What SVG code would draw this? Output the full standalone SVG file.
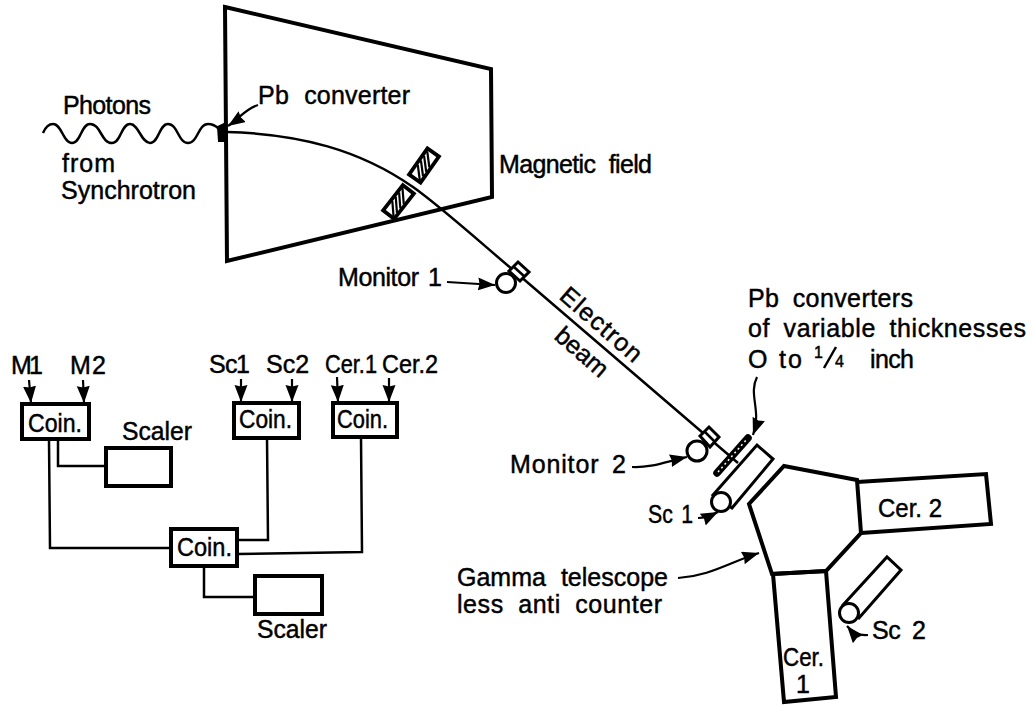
<svg xmlns="http://www.w3.org/2000/svg" width="1034" height="706" viewBox="0 0 1034 706">
<style>
text{font-family:"Liberation Sans",Arial,sans-serif;font-size:25px;fill:#000;stroke:#000;stroke-width:.45}
.th{fill:none;stroke:#000;stroke-width:4;stroke-linejoin:miter}
.box{fill:#fff;stroke:#000;stroke-width:4}
.ln{fill:none;stroke:#000;stroke-width:2.500}
.wire{fill:none;stroke:#000;stroke-width:2.500}
.arr{fill:none;stroke:#000;stroke-width:2.200;marker-end:url(#ah)}
.w{fill:#fff;stroke:#000;stroke-width:3}
.small{font-size:16px}
</style>
<defs>
<marker id="ah" markerUnits="userSpaceOnUse" markerWidth="18" markerHeight="14" refX="17" refY="6.500" orient="auto"><path d="M0,0L17,6.500L0,13L1.500,6.500Z" fill="#000"/></marker>
<g id="hatch"><rect x="-16" y="-7" width="32" height="14" fill="#fff" stroke="#000" stroke-width="3.800"/><path d="M-15,5.500L-3,-5.500M-9.500,5.500L2.500,-5.500M-4,5.500L8,-5.500M1.500,5.500L13.500,-5.500" stroke="#000" stroke-width="2.200" fill="none"/></g>
</defs>
<g id="magnet">
<path class="th" d="M225,7L491,69L492,197L227,261Z"/>
<text x="499" y="173" word-spacing="7" textLength="153">Magnetic field</text>
</g>
<g id="connectors">
<path class="ln" d="M227,132C300,134 360,150 413,187C440,206 480,242 513,270L738,463"/>
<path class="ln" d="M43,133C46,126 50,124 53,124C62,124 63,143 72,143C81,143 81,124 90,124C101,124 101,143 112,143C121,143 121,124 130,124C139,124 141,143 150,143C159,143 159,124 168,124C178,124 178,143 188,143C198,143 198,124 208,124C212,124 216,126 219,129"/>
<path class="arr" d="M258,105C245,109 240,118 228,126"/>
<path class="arr" d="M447,282L495,285"/>
<path class="arr" d="M632,467C650,468 665,462 687,457"/>
<path class="arr" d="M757,377C748,395 762,410 753,435"/>
<path class="arr" d="M698,518C705,518 710,516 718,512"/>
<path class="arr" d="M678,578C710,576 730,562 759,553"/>
<path class="arr" d="M868,635C858,636 852,632 847,626"/>
<path class="arr" d="M29,380L31,403"/><path class="arr" d="M83,380L84,403"/>
<path class="arr" d="M241,379V402"/><path class="arr" d="M292,379V402"/>
<path class="arr" d="M337,377L338,402"/><path class="arr" d="M389,378V402"/>
<path class="wire" d="M58,440V466H106"/>
<path class="wire" d="M49,440L50,548H171"/>
<path class="wire" d="M267,438L268,540H237"/>
<path class="wire" d="M361,437L362,552L237,554"/>
<path class="wire" d="M204,566V597H255"/>
</g>
<g id="pb-converter">
<path d="M218,127L226,123L226,141L219,141Z" fill="#000" stroke="#000" stroke-width="2"/>
<text x="258" y="104" word-spacing="8" textLength="152">Pb converter</text>
</g>
<g id="photons-label">
<text x="63" y="114" textLength="88">Photons</text>
<text x="62" y="172" textLength="53">from</text>
<text x="61" y="199" textLength="135">Synchrotron</text>
</g>
<g id="slit-upper"><use href="#hatch" transform="translate(424,165.500) rotate(-55)"/></g>
<g id="slit-lower"><use href="#hatch" transform="translate(398.500,202) rotate(-52)"/></g>
<g id="monitor-1">
<path class="w" d="M509,271L518,262L529,272L520,281Z"/>
<path class="ln" d="M514,267L525,277"/>
<circle class="w" cx="506" cy="283" r="9.500"/>
<text x="338" y="286" word-spacing="3" textLength="104">Monitor 1</text>
</g>
<g id="beam-label">
<text transform="translate(558,298) rotate(41)" textLength="100">Electron</text>
<text transform="translate(553,338) rotate(41)" textLength="62">beam</text>
</g>
<g id="monitor-2">
<path class="w" d="M700,436L709,427L719,437L710,447Z"/>
<path class="ln" d="M705,432L715,442"/>
<circle class="w" cx="697" cy="451" r="10"/>
<text x="510" y="473" word-spacing="5" textLength="116">Monitor 2</text>
</g>
<g id="pb-plate">
<path d="M717,473L748,438" stroke="#000" stroke-width="7.500" stroke-linecap="round"/>
<path d="M718,472L747,439" stroke="#fff" stroke-width="1.500" stroke-dasharray="2 3"/>
<text x="748" y="307" word-spacing="6" textLength="165">Pb converters</text>
<text x="748" y="337" word-spacing="6" textLength="278">of variable thicknesses</text>
<text x="748" y="368" textLength="54">O to</text>
<text x="814" y="358" class="small">1</text>
<path class="ln" d="M836,347L824,368"/>
<text x="835" y="367" class="small">4</text>
<text x="870" y="368" textLength="44">inch</text>
</g>
<g id="sc-1">
<path class="w" d="M713,495L757,445L773,459L732,508Z"/>
<circle class="w" cx="721" cy="502" r="9.500"/>
<text x="648" y="523" word-spacing="3" textLength="45" lengthAdjust="spacingAndGlyphs">Sc 1</text>
</g>
<g id="telescope">
<path class="th" d="M784,466L857,480L861,533L826,571L772,574L749,504Z"/>
<text x="457" y="586" word-spacing="8" textLength="211">Gamma telescope</text>
<text x="457" y="613" word-spacing="7" textLength="205">less anti counter</text>
</g>
<g id="cer-2">
<path class="th" d="M857,482L986,474L991,524L861,533"/>
<text x="878" y="517" textLength="64" lengthAdjust="spacingAndGlyphs">Cer. 2</text>
</g>
<g id="cer-1">
<path class="th" d="M773,574L784,702L836,697L826,571Z"/>
<text x="783" y="666" textLength="41" lengthAdjust="spacingAndGlyphs">Cer.</text>
<text x="796" y="693">1</text>
</g>
<g id="sc-2">
<path class="w" d="M843,605L887,557L901,570L859,618Z"/>
<circle class="w" cx="849" cy="613" r="9.500"/>
<text x="872" y="639" word-spacing="5" textLength="54">Sc 2</text>
</g>
<g id="coin-a"><rect class="box" x="22" y="404" width="67" height="35"/><text x="28" y="432" textLength="54" lengthAdjust="spacingAndGlyphs">Coin.</text></g>
<g id="coin-b"><rect class="box" x="234" y="403" width="65" height="35"/><text x="239" y="428" textLength="53" lengthAdjust="spacingAndGlyphs">Coin.</text></g>
<g id="coin-c"><rect class="box" x="333" y="403" width="64" height="34"/><text x="337" y="428" textLength="51" lengthAdjust="spacingAndGlyphs">Coin.</text></g>
<g id="coin-d"><rect class="box" x="171" y="529" width="66" height="37"/><text x="177" y="556" textLength="55" lengthAdjust="spacingAndGlyphs">Coin.</text></g>
<g id="scaler-a"><rect class="box" x="106" y="448" width="65" height="38"/><text x="122" y="440" textLength="70" lengthAdjust="spacingAndGlyphs">Scaler</text></g>
<g id="scaler-b"><rect class="box" x="255" y="576" width="67" height="38"/><text x="257" y="638" textLength="70" lengthAdjust="spacingAndGlyphs">Scaler</text></g>
<g id="inputs">
<text x="11 29" y="374">M1</text>
<text x="70 92" y="374">M2</text>
<text x="209 225 236" y="373">Sc1</text>
<text x="266" y="373">Sc2</text>
<text x="325" y="373" textLength="52" lengthAdjust="spacingAndGlyphs">Cer.1</text>
<text x="382" y="373" textLength="56" lengthAdjust="spacingAndGlyphs">Cer.2</text>
</g>
</svg>
